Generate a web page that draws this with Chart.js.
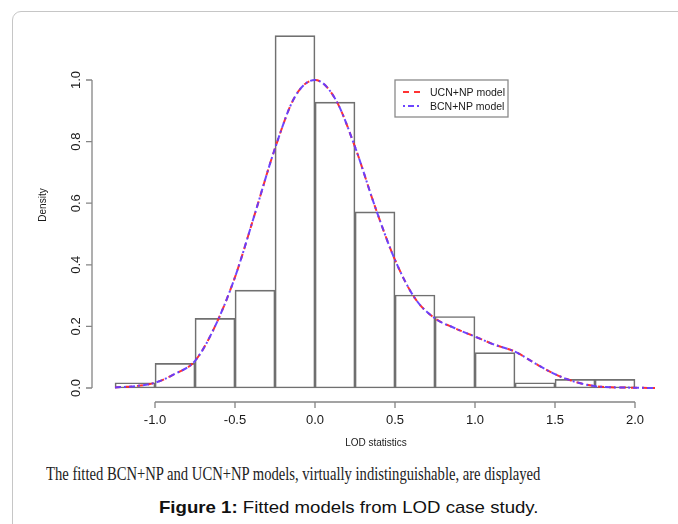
<!DOCTYPE html>
<html>
<head>
<meta charset="utf-8">
<script src="https://cdn.jsdelivr.net/npm/chart.js@4.4.1/dist/chart.umd.min.js"></script>
<style>
  html, body { margin: 0; padding: 0; background: #fff; }
  body { width: 678px; height: 524px; position: relative; overflow: hidden; }
  .frame { position: absolute; left: 12px; top: 11px; width: 720px; height: 600px;
           border: 1px solid #c6c6c6; border-radius: 9px; }
  .wrap { position: absolute; left: 0; top: 0; width: 678px; height: 460px; }
  .note { position: absolute; left: 46px; top: 465px; white-space: nowrap;
          font: 18px "Liberation Serif", "Times New Roman", serif; color: #222;
          line-height: 18px; transform-origin: 0 0; }
  .caption { position: absolute; left: 159px; top: 499px; white-space: nowrap;
             font: 17px "Liberation Sans", Arial, sans-serif; color: #111;
             line-height: 17px; transform-origin: 0 0; }
</style>
</head>
<body>
<div class="frame"></div>
<div class="wrap"><canvas id="hist"></canvas></div>
<div class="note" id="note">The fitted BCN+NP and UCN+NP models, virtually indistinguishable, are displayed</div>
<div class="caption" id="caption"><b>Figure 1:</b> Fitted models from LOD case study.</div>
<script>
/* ── DATA ── */
const binEdges   = [-1.25,-1.0,-0.75,-0.5,-0.25,0,0.25,0.5,0.75,1.0,1.25,1.5,1.75,2.0];
const binDensity = [0.017,0.080,0.226,0.318,1.144,0.928,0.572,0.302,0.232,0.115,0.017,0.028,0.028];

const curveX = [-1.25,-1.125,-1.0,-0.875,-0.75,-0.625,-0.5,-0.375,-0.25,-0.125,0,0.125,0.25,0.375,
                0.5,0.625,0.75,0.875,1.0,1.125,1.25,1.375,1.5,1.625,1.75,1.875,2.0,2.125];
const ucnY   = [0.002,0.006,0.017,0.046,0.088,0.200,0.360,0.567,0.778,0.946,1.000,0.940,0.783,0.589,
                0.416,0.291,0.226,0.194,0.167,0.140,0.118,0.080,0.045,0.020,0.006,0.002,0.001,0.000];
const bcnY   = ucnY.slice();

const xTicks = [-1.0,-0.5,0.0,0.5,1.0,1.5,2.0];
const yTicks = [0.0,0.2,0.4,0.6,0.8,1.0];
const seriesNames = ['UCN+NP model','BCN+NP model'];

const RED = 'rgba(255,40,40,0.95)';
const BLUE = 'rgba(100,60,255,0.95)';
const DASH_RED = [6,5];
const DASH_BLUE = [2,3,6,3];

/* ── R-STYLE AXES + LEGEND ── */
const rAxes = {
  id: 'rAxes',
  afterDraw(chart) {
    const { ctx, chartArea: a, scales: { x, y } } = chart;
    ctx.save();
    ctx.strokeStyle = '#858585';
    ctx.lineWidth = 1.3;
    ctx.fillStyle = '#1a1a1a';
    ctx.font = '13px "Liberation Sans", Arial, sans-serif';

    // y axis
    const ax = a.left - 8;
    ctx.beginPath();
    ctx.moveTo(ax, y.getPixelForValue(yTicks[0]));
    ctx.lineTo(ax, y.getPixelForValue(yTicks[yTicks.length - 1]));
    yTicks.forEach(v => {
      const py = y.getPixelForValue(v);
      ctx.moveTo(ax, py); ctx.lineTo(ax - 6, py);
    });
    ctx.stroke();
    ctx.textAlign = 'center'; ctx.textBaseline = 'middle';
    yTicks.forEach(v => {
      ctx.save();
      ctx.translate(ax - 16, y.getPixelForValue(v));
      ctx.rotate(-Math.PI / 2);
      ctx.fillText(v.toFixed(1), 0, 0);
      ctx.restore();
    });

    // x axis
    const ay = a.bottom + 8;
    ctx.beginPath();
    ctx.moveTo(x.getPixelForValue(xTicks[0]), ay);
    ctx.lineTo(x.getPixelForValue(xTicks[xTicks.length - 1]), ay);
    xTicks.forEach(v => {
      const px = x.getPixelForValue(v);
      ctx.moveTo(px, ay); ctx.lineTo(px, ay + 6);
    });
    ctx.stroke();
    xTicks.forEach(v => ctx.fillText(v.toFixed(1), x.getPixelForValue(v), ay + 18));

    // axis titles
    ctx.font = '10px "Liberation Sans", Arial, sans-serif';
    ctx.fillText('LOD statistics', (a.left + a.right) / 2 - 5, ay + 41);
    ctx.save();
    ctx.translate(43, (a.top + a.bottom) / 2 - 5);
    ctx.rotate(-Math.PI / 2);
    ctx.fillText('Density', 0, 0);
    ctx.restore();

    // legend box anchored at (0.5, 1.0)
    const lx = x.getPixelForValue(0.5), ly = y.getPixelForValue(1.0);
    ctx.strokeStyle = '#8a8a8a';
    ctx.lineWidth = 1.3;
    ctx.strokeRect(lx, ly, 113, 37);
    ctx.font = '10.5px "Liberation Sans", Arial, sans-serif';
    ctx.textAlign = 'left';
    [[RED, DASH_RED], [BLUE, DASH_BLUE]].forEach(([c, d], i) => {
      const yy = ly + 12 + i * 14;
      ctx.strokeStyle = c; ctx.lineWidth = 2; ctx.setLineDash(d);
      ctx.beginPath(); ctx.moveTo(lx + 8, yy); ctx.lineTo(lx + 25, yy); ctx.stroke();
      ctx.setLineDash([]);
      ctx.fillText(seriesNames[i], lx + 35, yy + 1);
    });
    ctx.restore();
  }
};

/* ── CHART ── */
const binCenters = binDensity.map((_, i) => (binEdges[i] + binEdges[i + 1]) / 2);

new Chart(document.getElementById('hist'), {
  data: {
    datasets: [
      {
        type: 'bar', order: 3,
        data: binCenters.map((c, i) => ({ x: c, y: binDensity[i] })),
        backgroundColor: 'rgba(0,0,0,0)', borderColor: '#707070', borderWidth: 1,
        borderSkipped: false, barPercentage: 1, categoryPercentage: 1
      },
      {
        type: 'line', order: 2, label: seriesNames[0],
        data: curveX.map((v, i) => ({ x: v, y: ucnY[i] })),
        borderColor: RED, borderWidth: 2, borderDash: DASH_RED,
        pointRadius: 0, cubicInterpolationMode: 'monotone', fill: false
      },
      {
        type: 'line', order: 1, label: seriesNames[1],
        data: curveX.map((v, i) => ({ x: v, y: bcnY[i] })),
        borderColor: BLUE, borderWidth: 2, borderDash: DASH_BLUE, borderDashOffset: 5,
        pointRadius: 0, cubicInterpolationMode: 'monotone', fill: false
      }
    ]
  },
  options: {
    responsive: true, maintainAspectRatio: false, animation: false,
    layout: { padding: { left: 100, right: 16, top: 26, bottom: 66 } },
    plugins: { legend: { display: false }, tooltip: { enabled: false } },
    scales: {
      x: { type: 'linear', display: false, offset: false, min: -1.34375, max: 2.16875 },
      y: { type: 'linear', display: false, min: -0.01948, max: 1.17532 }
    }
  },
  plugins: [rAxes]
});

/* ── FIT CAPTION WIDTHS ── */
function fitWidth(id, target) {
  const el = document.getElementById(id);
  el.style.transform = 'scaleX(' + (target / el.offsetWidth) + ')';
}
fitWidth('note', 494);
fitWidth('caption', 379);
</script>
</body>
</html>
